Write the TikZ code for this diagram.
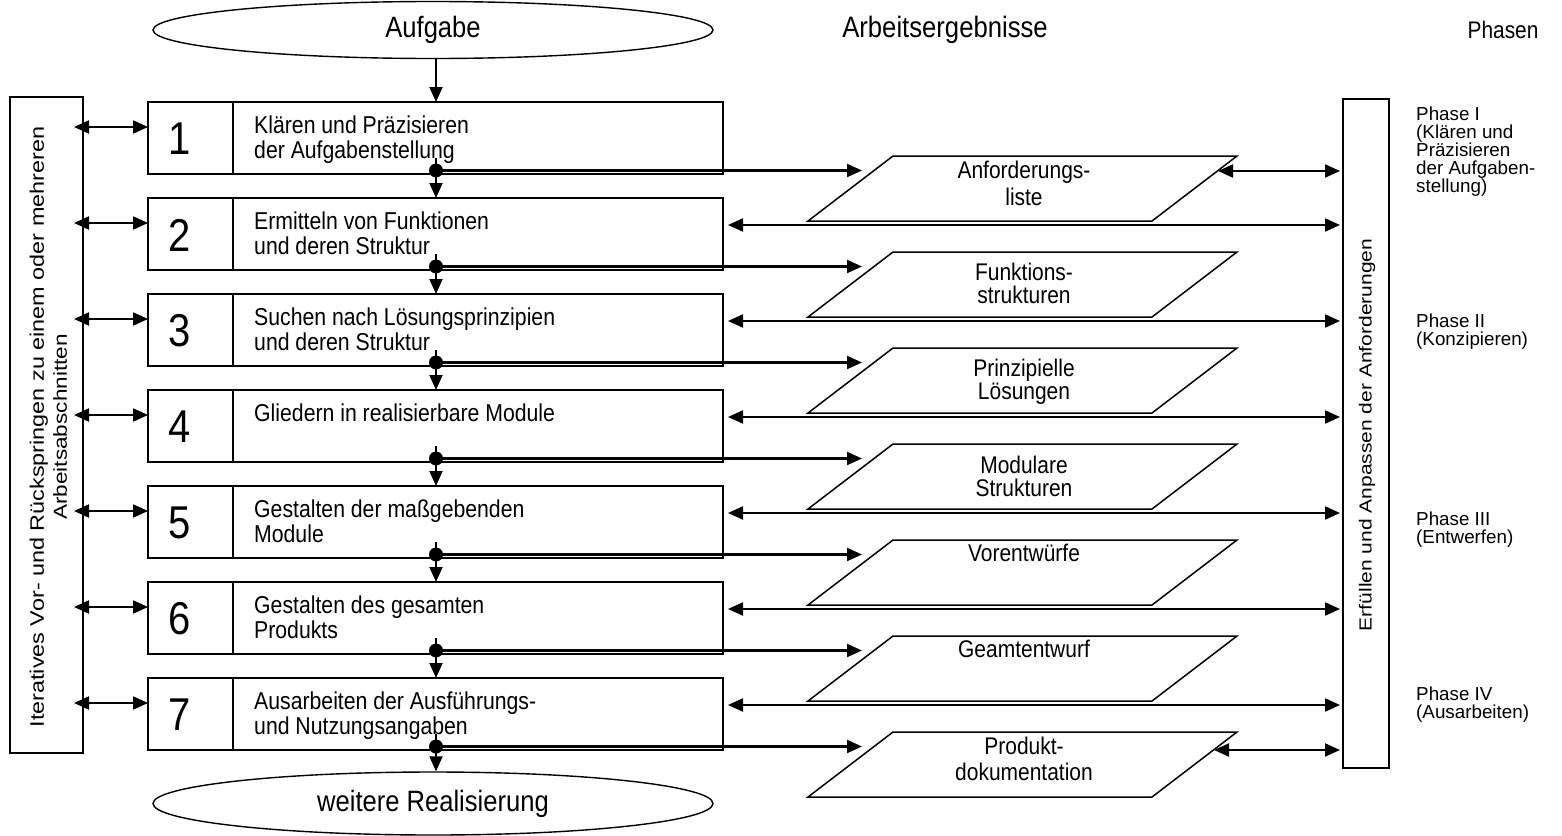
\documentclass[tikz,border=0pt]{standalone}
\usepackage{fontspec}
\setmainfont{Liberation Sans}
\newfontfamily\hf[FakeStretch=0.87]{Liberation Sans}
\newfontfamily\vf[FakeStretch=1.2]{Liberation Sans}
\usetikzlibrary{arrows.meta,shapes.geometric,calc}
\begin{document}
\global\lineskiplimit=-20pt
\begin{tikzpicture}[x=1pt,y=-1pt,
  tip/.tip={Triangle[length=15pt,width=13pt]},
  arr/.style={line width=2.1pt,-tip},
  biarr/.style={line width=2.1pt,tip-tip},
  numbox/.style={draw,line width=1.8pt,minimum width=85pt,minimum height=72pt,inner sep=0pt,outer sep=0pt},
  txtbox/.style={draw,line width=1.8pt,minimum width=490pt,minimum height=72pt,inner sep=0pt,outer sep=0pt},
  numtext/.style={font=\hf\fontsize{46}{46}\selectfont,inner sep=0pt},
  boxtext/.style={anchor=north west,align=left,inner sep=0pt,font=\hf\fontsize{24.4}{25}\selectfont},
  ptext/.style={anchor=north,align=center,inner sep=0pt},
  para/.style={draw,line width=1.5pt},
  oval/.style={draw,ellipse,line width=1.4pt,minimum width=560pt,minimum height=57pt,inner sep=0pt,font=\hf\fontsize{29.4}{30}\selectfont},
  sidebox/.style={draw,line width=1.8pt,inner sep=0pt,outer sep=0pt},
  vtext/.style={rotate=90,align=center,inner sep=0pt},
  phase/.style={anchor=north west,align=left,inner sep=0pt,font=\fontsize{18.8}{17.8}\selectfont},
  head/.style={inner sep=0pt,font=\hf\fontsize{29.5}{30}\selectfont},
  dot/.style={circle,fill,inner sep=0pt,minimum size=14pt}
]
\useasboundingbox (0,0) rectangle (1562,835);

% ovals
\node[oval] (top) at (433,30) {Aufgabe};
\node[oval, minimum height=63pt] (bot) at (433,803.5) {weitere Realisierung};

% headers
\node[head] (h1) at (945,30) {Arbeitsergebnisse};
\node[head, font=\hf\fontsize{24}{26}\selectfont] (h2) at (1503,30) {Phasen};

% side boxes
\node[sidebox, minimum width=73pt, minimum height=656pt] (lbox) at (46.5,425) {};
\node[vtext, font=\vf\fontsize{18.8}{23}\selectfont] (ltext) at (48.5,427) {{\fontsize{19.5}{23}\selectfont Iteratives Vor- und Rückspringen zu einem oder mehreren}\\Arbeitsabschnitten};
\node[sidebox, minimum width=46pt, minimum height=669pt] (req) at (1366,433.5) {};
\node[vtext, font=\vf\fontsize{17.5}{20}\selectfont] (rtext) at (1367,435) {Erfüllen und Anpassen der Anforderungen};

% phases
\node[phase] (ph1) at (1416,107) {Phase I\\(Klären und\\Präzisieren\\der Aufgaben-\\stellung)};
\node[phase] (ph2) at (1416,314) {Phase II\\(Konzipieren)};
\node[phase] (ph3) at (1416,512) {Phase III\\(Entwerfen)};
\node[phase] (ph4) at (1416,687) {Phase IV\\(Ausarbeiten)};

% work step boxes
\foreach \i/\txt in {
  1/{Klären und Präzisieren\\der Aufgabenstellung},
  2/{Ermitteln von Funktionen\\und deren Struktur},
  3/{Suchen nach Lösungsprinzipien\\und deren Struktur},
  4/{Gliedern in realisierbare Module},
  5/{Gestalten der maßgebenden\\Module},
  6/{Gestalten des gesamten\\Produkts},
  7/{Ausarbeiten der Ausführungs-\\und Nutzungsangaben}}{
  \pgfmathsetmacro\ty{102+96*(\i-1)}
  \node[numbox] (n\i) at (190.5,\ty+36) {};
  \node[txtbox] (t\i) at (478,\ty+36) {};
  \node[numtext] (k\i) at (180,\ty+37) {\i};
  \node[boxtext] (x\i) at (254,\ty+14) {\txt};
  \coordinate (s\i) at (436,\ty+56);
  \coordinate (d\i) at (436,\ty+68.5);
  \coordinate (pin\i) at (862,\ty+68.5);
  \coordinate (la\i) at (74,\ty+25);
  \coordinate (ba\i) at (0,\ty+27);
}

% result parallelograms
\foreach \i/\off/\bs/\ptxt in {
  1/15/27/{Anforderungs-\\liste},
  2/21/23/{Funktions-\\strukturen},
  3/21/23/{Prinzipielle\\Lösungen},
  4/22/23/{Modulare\\Strukturen},
  5/14/27/{Vorentwürfe},
  6/14/27/{Geamtentwurf},
  7/15/26/{Produkt-\\dokumentation}}{
  \pgfmathsetmacro\py{156+96*(\i-1)}
  \draw[para] (808,\py+65) -- (893,\py) -- (1237,\py) -- (1152,\py+65) -- cycle;
  \node[ptext, font=\hf\fontsize{24.1}{\bs}\selectfont] (p\i) at (1024,\py+\off-10) {\ptxt};
}
\coordinate (pe1) at (1218,171);
\coordinate (pe7) at (1214,750);

% main flow
\draw[arr] (top.south -| s1) -- (t1.north -| s1);
\foreach \i/\j in {1/2,2/3,3/4,4/5,5/6,6/7}{
  \draw[arr] (s\i) -- (t\j.north -| s\i);
}
\draw[arr] (s7) -- (bot.north -| s7);

% outputs to results
\foreach \i in {1,...,7}{
  \draw[arr] (d\i) -- (pin\i);
}

% left iteration arrows
\foreach \i in {1,...,7}{
  \draw[biarr] (la\i) -- (n\i.west |- la\i);
}

% requirement feedback arrows
\foreach \i in {2,...,7}{
  \draw[biarr, shorten <=5pt, shorten >=3pt] (t\i.east |- ba\i) -- (req.west |- ba\i);
}
\draw[biarr, shorten >=3pt] (pe1) -- (req.west |- pe1);
\draw[biarr, shorten >=3pt] (pe7) -- (req.west |- pe7);

% dots
\foreach \i in {1,...,7}{
  \node[dot] (dd\i) at (d\i) {};
}
\end{tikzpicture}
\end{document}
